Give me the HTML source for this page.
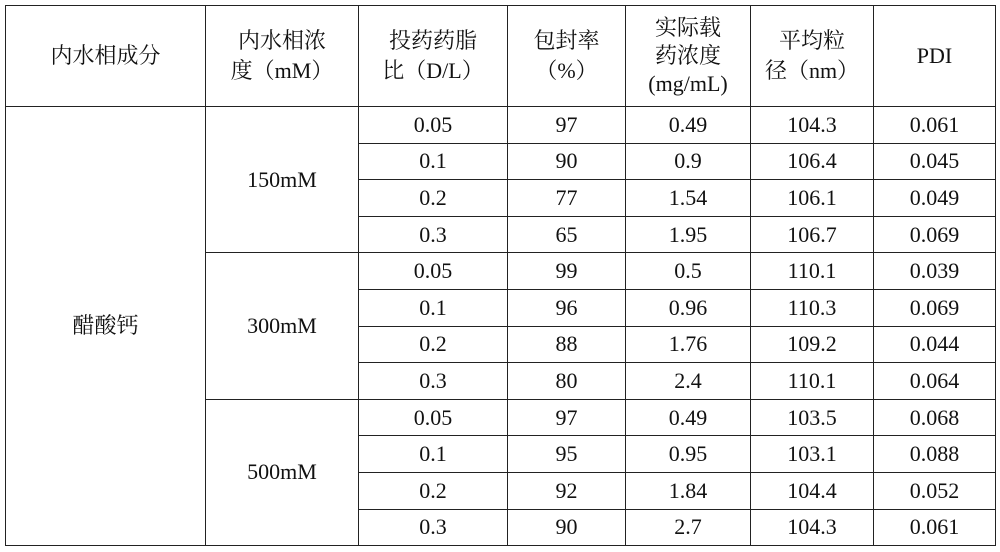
<!DOCTYPE html>
<html><head><meta charset="utf-8"><style>
body{margin:0;background:#fff;width:1000px;height:552px;overflow:hidden}
table{position:absolute;left:5px;top:5px;border-collapse:collapse;font-family:"Liberation Serif","Noto Serif CJK SC",serif;font-size:22px;color:#111}
td{border:1.5px solid #222;text-align:center;vertical-align:middle;padding:0;height:35.6px;line-height:24px}
tr.h td{height:100px;line-height:30px}
</style></head><body>
<table>
<colgroup><col style="width:200px"><col style="width:153px"><col style="width:149px"><col style="width:118px"><col style="width:125px"><col style="width:123px"><col style="width:122px"></colgroup>
<tr class="h"><td>内水相成分</td><td>内水相浓<br>度（mM）</td><td>投药药脂<br>比（D/L）</td><td>包封率<br>（%）</td><td style="line-height:28px">实际载<br>药浓度<br>(mg/mL)</td><td>平均粒<br>径（nm）</td><td>PDI</td></tr>
<tr><td rowspan="12">醋酸钙</td><td rowspan="4">150mM</td><td>0.05</td><td>97</td><td>0.49</td><td>104.3</td><td>0.061</td></tr>
<tr><td>0.1</td><td>90</td><td>0.9</td><td>106.4</td><td>0.045</td></tr>
<tr><td>0.2</td><td>77</td><td>1.54</td><td>106.1</td><td>0.049</td></tr>
<tr><td>0.3</td><td>65</td><td>1.95</td><td>106.7</td><td>0.069</td></tr>
<tr><td rowspan="4">300mM</td><td>0.05</td><td>99</td><td>0.5</td><td>110.1</td><td>0.039</td></tr>
<tr><td>0.1</td><td>96</td><td>0.96</td><td>110.3</td><td>0.069</td></tr>
<tr><td>0.2</td><td>88</td><td>1.76</td><td>109.2</td><td>0.044</td></tr>
<tr><td>0.3</td><td>80</td><td>2.4</td><td>110.1</td><td>0.064</td></tr>
<tr><td rowspan="4">500mM</td><td>0.05</td><td>97</td><td>0.49</td><td>103.5</td><td>0.068</td></tr>
<tr><td>0.1</td><td>95</td><td>0.95</td><td>103.1</td><td>0.088</td></tr>
<tr><td>0.2</td><td>92</td><td>1.84</td><td>104.4</td><td>0.052</td></tr>
<tr><td>0.3</td><td>90</td><td>2.7</td><td>104.3</td><td>0.061</td></tr>
</table>
</body></html>
